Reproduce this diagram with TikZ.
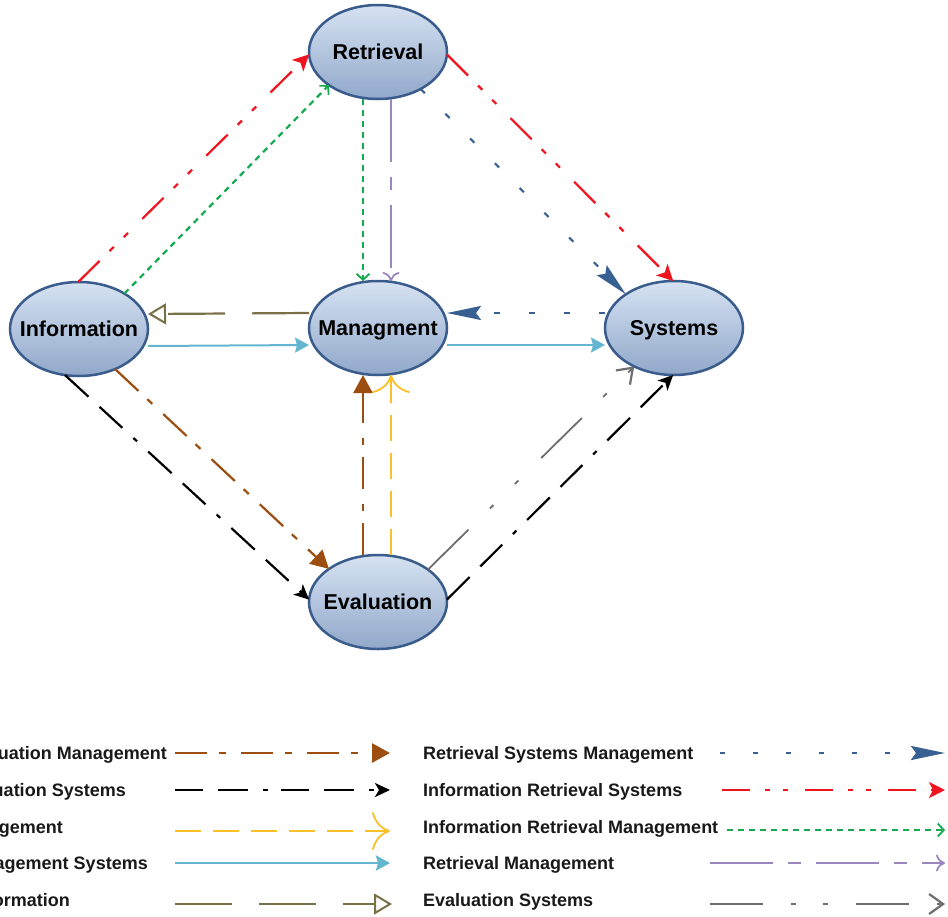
\documentclass[tikz,border=0pt]{standalone}
\usepackage{fontspec}
\setmainfont{Liberation Sans}
\usetikzlibrary{shapes.geometric,arrows.meta,calc}
\definecolor{cbrown}{RGB}{156,78,16}
\definecolor{cyellow}{RGB}{250,192,40}
\definecolor{ccyan}{RGB}{100,182,208}
\definecolor{colive}{RGB}{122,112,72}
\definecolor{cblue}{RGB}{56,96,146}
\definecolor{cred}{RGB}{240,20,30}
\definecolor{cgreen}{RGB}{20,170,80}
\definecolor{cpurple}{RGB}{155,135,192}
\definecolor{cgray}{RGB}{110,110,110}
\definecolor{ndborder}{RGB}{58,92,140}
\definecolor{ndtop}{RGB}{214,226,242}
\definecolor{ndmid}{RGB}{190,208,232}
\definecolor{ndbot}{RGB}{145,168,202}
\begin{document}
\begin{tikzpicture}[x=1pt,y=-1pt,
  nd/.style={ellipse, draw=ndborder, line width=2.5pt, top color=ndtop, middle color=ndmid, bottom color=ndbot,
    minimum width=138pt, minimum height=94pt, inner sep=0pt, outer sep=0pt},
  ndtext/.style={inner sep=0pt, text height=15.4pt, text depth=0pt, font=\fontsize{21.5}{24}\selectfont\bfseries},
  lt/.style={inner sep=0pt, font=\fontsize{18}{20}\selectfont\bfseries, text=black!90},
  abrown/.style={draw=cbrown, line width=2.2pt, dash pattern=on 32pt off 12pt on 7pt off 15pt,
    -{Triangle[length=18pt,width=19pt,fill=cbrown]}},
  ablack/.style={draw=black, line width=2.2pt, dash pattern=on 32pt off 15pt on 31pt off 15pt on 5pt off 15pt,
    -{Stealth[length=15pt,width=14pt,inset=4pt]}},
  ayellow/.style={draw=cyellow, line width=1.8pt, dash pattern=on 26pt off 12pt,
    -{Computer Modern Rightarrow[length=18pt,width=38pt,line width=1.8pt]}},
  acyan/.style={draw=ccyan, line width=2pt, -{Stealth[length=14pt,width=15pt,inset=2pt]}},
  aolive/.style={draw=colive, line width=2.2pt, dash pattern=on 57pt off 27pt,
    -{Triangle[open,length=18pt,width=21pt,line width=2pt]}},
  ablue/.style={draw=cblue, line width=2.2pt, dash pattern=on 6pt off 29pt,
    -{Stealth[length=34pt,width=14pt,inset=5pt]}},
  ared/.style={draw=cred, line width=2.2pt, dash pattern=on 30pt off 14pt on 6pt off 14pt on 6pt off 20pt,
    -{Stealth[length=16pt,width=16pt,inset=4pt]}},
  agreen/.style={draw=cgreen, line width=2.2pt, dash pattern=on 6pt off 5pt,
    -{Straight Barb[length=6pt,width=13pt,line width=1.8pt]}},
  apurple/.style={draw=cpurple, line width=1.8pt, dash pattern=on 63pt off 15pt on 13pt off 15pt,
    -{Computer Modern Rightarrow[length=9pt,width=17pt,line width=1.8pt]}},
  agray/.style={draw=cgray, line width=1.8pt, dash pattern=on 57pt off 30pt on 5pt off 30pt on 5pt off 32pt,
    -{Straight Barb[length=14pt,width=20pt,line width=2.2pt]}},
  lg/.style={line width=2.8pt}
]
\useasboundingbox (0,0) rectangle (948,916);
\fill[white] (0,0) rectangle (948,916);

% nodes
\node[nd] (ret) at (378,52) {};
\node[nd] (inf) at (79,329) {};
\node[nd] (man) at (378,328) {};
\node[nd] (sys) at (674,328) {};
\node[nd] (eva) at (378,602) {};
\node[ndtext] (retT) at (ret) {Retrieval};
\node[ndtext] (infT) at (inf) {Information};
\node[ndtext] (manT) at (man) {Managment};
\node[ndtext] (sysT) at (sys) {Systems};
\node[ndtext] (evaT) at (eva) {Evaluation};

% connectors
\draw[ared] (inf.91) -- (ret.182);
\draw[agreen] (inf.38) -- (ret.214);
\draw[ared] (ret.-2) -- (sys.91);
\draw[ablue] (ret.-41) -- (sys.145);
\draw[agreen] ([xshift=-15pt]ret.south) -- ([xshift=-15pt]man.north);
\draw[apurple] ([xshift=13pt]ret.south) -- ([xshift=13pt]man.north);
\draw[ablue] ([yshift=15pt]sys.west) -- ([yshift=15pt]man.east);
\draw[aolive] ([yshift=15pt]man.west) -- ([yshift=15pt]inf.east);
\draw[acyan] ([yshift=-17pt]inf.east) -- ([yshift=-17pt]man.west);
\draw[acyan] ([yshift=-17pt]man.east) -- ([yshift=-17pt]sys.west);
\draw[ablack] (inf.253) -- (eva.178);
\draw[abrown] (inf.-48) -- (eva.146);
\draw[abrown] ([xshift=-15pt]eva.north) -- ([xshift=-15pt]man.south);
\draw[ayellow] ([xshift=13pt]eva.north) -- ([xshift=13pt]man.south);
\draw[agray] (eva.33) -- (sys.224);
\draw[ablack] (eva.2) -- (sys.269);

% legend, left column
\node[lt, anchor=base east] (t1) at (167,759.5) {Information Evaluation Management};
\node[lt, anchor=base east] (t2) at (126,796.5) {Information Evaluation Systems};
\node[lt, anchor=base east] (t3) at (63,833.5) {Evaluation Management};
\node[lt, anchor=base east] (t4) at (148,869.5) {Information Management Systems};
\node[lt, anchor=base east] (t5) at (70,906.5) {Management Information};
\coordinate (a1) at (175,753); \coordinate (b1) at (390,753);
\coordinate (a2) at (175,790); \coordinate (b2) at (390,790);
\coordinate (a3) at (175,831); \coordinate (b3) at (390,831);
\coordinate (a4) at (175,863); \coordinate (b4) at (390,863);
\coordinate (a5) at (175,904); \coordinate (b5) at (392,904);
\draw[abrown,lg] (a1) -- (b1);
\draw[ablack,lg,dash pattern=on 28pt off 15pt on 30pt off 15pt on 5pt off 13pt] (a2) -- (b2);
\draw[ayellow,lg] (a3) -- (b3);
\draw[acyan,lg] (a4) -- (b4);
\draw[aolive,lg] (a5) -- (b5);

% legend, right column
\node[lt, anchor=base west] (t6) at (423,759.5) {Retrieval Systems Management};
\node[lt, anchor=base west] (t7) at (423,796.5) {Information Retrieval Systems};
\node[lt, anchor=base west] (t8) at (423,833.5) {Information Retrieval Management};
\node[lt, anchor=base west] (t9) at (423,869.5) {Retrieval Management};
\node[lt, anchor=base west] (t10) at (423,906.5) {Evaluation Systems};
\coordinate (a6) at (720,753); \coordinate (b6) at (945,753);
\coordinate (a7) at (722,790); \coordinate (b7) at (945,790);
\coordinate (a8) at (727,830); \coordinate (b8) at (945,830);
\coordinate (a9) at (710,863); \coordinate (b9) at (945,863);
\coordinate (a10) at (710,904); \coordinate (b10) at (945,904);
\draw[ablue,lg,dash pattern=on 5pt off 28pt] (a6) -- (b6);
\draw[ared,lg,dash pattern=on 28pt off 15pt on 5pt off 13pt on 5pt off 17pt] (a7) -- (b7);
\draw[agreen,lg] (a8) -- (b8);
\draw[apurple,lg] (a9) -- (b9);
\draw[agray,lg,dash pattern=on 53pt off 28pt on 5pt off 27pt on 5pt off 28pt] (a10) -- (b10);
\end{tikzpicture}
\end{document}
